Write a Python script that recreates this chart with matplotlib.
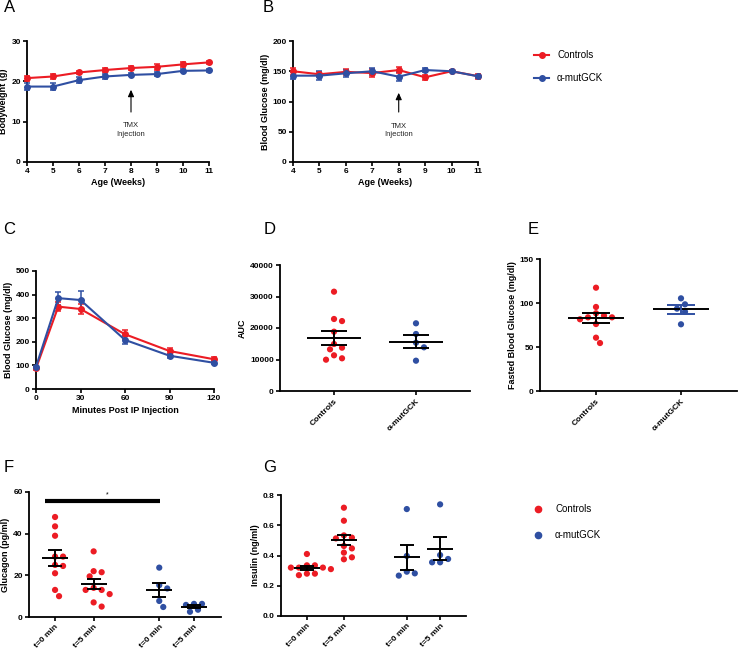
import numpy as np
import matplotlib
matplotlib.use('Agg')
import matplotlib.pyplot as plt
from matplotlib.lines import Line2D

RED = '#ec1c24'
BLUE = '#2f4fa2'

plt.rcParams['font.family'] = ['Liberation Sans', 'DejaVu Sans']
plt.rcParams['font.weight'] = 'bold'
plt.rcParams['axes.labelweight'] = 'bold'

# ---------------- data ----------------
weeks = [4, 5, 6, 7, 8, 9, 10, 11]
bw_ctrl = [20.8, 21.2, 22.2, 22.8, 23.3, 23.6, 24.2, 24.7]
bw_ctrl_err = [0.6, 0.6, 0.4, 0.5, 0.5, 0.7, 0.7, 0.4]
bw_mut = [18.7, 18.7, 20.3, 21.2, 21.6, 21.8, 22.6, 22.7]
bw_mut_err = [0.8, 0.9, 0.7, 0.6, 0.4, 0.4, 0.4, 0.4]

bg_ctrl = [150, 145, 149, 147, 152, 140, 150, 142]
bg_ctrl_err = [6, 4, 5, 6, 5, 4, 2, 4]
bg_mut = [142.7, 142.7, 146.6, 150, 141, 152, 150, 141.6]
bg_mut_err = [6, 7, 6, 6, 7, 4, 2, 3]

ipgtt_t = [0, 15, 30, 60, 90, 120]
ipgtt_ctrl = [87, 349, 339, 232, 161, 126]
ipgtt_ctrl_err = [5, 20, 20, 20, 14, 10]
ipgtt_mut = [94, 385, 377, 208, 141, 111]
ipgtt_mut_err = [5, 27, 40, 18, 8, 6]

group_labels = ['Controls', 'α-mutGCK']
auc_ctrl = [31530, 22860, 22200, 18830, 14920, 13750, 13230, 11330, 9940, 10380]
auc_mut = [21490, 18100, 15330, 13870, 9620]

fbg_ctrl = [117.4, 95.5, 88.3, 83.7, 81.5, 83.7, 85.6, 76.1, 60.6, 54.5]
fbg_mut = [105.3, 98.5, 93.6, 90.1, 75.8]

time_labels = ['t=0 min', 't=5 min', 't=0 min', 't=5 min']
gcg_ctrl_t0 = [48.0, 43.5, 39.0, 29.0, 29.0, 25.0, 24.5, 21.0, 13.0, 10.0]
gcg_ctrl_t5 = [31.5, 22.0, 21.5, 19.5, 14.0, 13.0, 13.0, 11.0, 7.0, 5.0]
gcg_mut_t0 = [23.7, 15.3, 13.7, 7.7, 4.8]
gcg_mut_t5 = [5.8, 6.3, 6.3, 3.5, 2.5]

ins_ctrl_t0 = [0.41, 0.335, 0.335, 0.32, 0.32, 0.31, 0.28, 0.28, 0.27, 0.32]
ins_ctrl_t5 = [0.716, 0.63, 0.533, 0.518, 0.513, 0.463, 0.447, 0.419, 0.375, 0.388]
ins_mut_t0 = [0.707, 0.397, 0.293, 0.282, 0.267]
ins_mut_t5 = [0.738, 0.403, 0.377, 0.355, 0.355]

# ---------------- figure ----------------
W, H = 738, 652
fig = plt.figure(figsize=(W / 100, H / 100), dpi=100)


def add_ax(x0, x1, y0, y1):
    return fig.add_axes([x0 / W, 1 - y1 / H, (x1 - x0) / W, (y1 - y0) / H])


def style(ax):
    for s in ['top', 'right']:
        ax.spines[s].set_visible(False)
    for s in ['left', 'bottom']:
        ax.spines[s].set_linewidth(1.3)
    ax.tick_params(direction='out', length=3, width=1.2, labelsize=6, pad=1.5)


def line_panel(ax, x, c, ce, m, me):
    kw = dict(marker='o', ms=4, lw=1.5, elinewidth=1.1, capsize=2, capthick=1.1,
              clip_on=False, zorder=3)
    ax.errorbar(x, c, yerr=ce, color=RED, **kw)
    ax.errorbar(x, m, yerr=me, color=BLUE, **kw)


def ppu(ax):
    bb = ax.get_position()
    xl = ax.get_xlim()
    yl = ax.get_ylim()
    return (bb.width * W / (xl[1] - xl[0]), bb.height * H / (yl[1] - yl[0]))


def swarm(ax, x, vals, color, step=4.0, dist=6.3):
    px, py = ppu(ax)
    vals = np.asarray(vals, float)
    order = np.argsort(-vals)
    placed = []
    offs = np.zeros(len(vals))
    cands = [0]
    for j in range(1, 12):
        cands += [j, -j]
    for i in order:
        yp = vals[i] * py
        for c in cands:
            xp = c * step
            if all((xp - a) ** 2 + (yp - b) ** 2 >= dist ** 2 for a, b in placed):
                break
        placed.append((xp, yp))
        offs[i] = xp / px
    ax.scatter(x + offs, vals, s=20, color=color, edgecolors='none', zorder=3, clip_on=False)


def mean_sem(ax, x, vals, hw_mean_px, hw_sem_px, cm='black', cs='black'):
    px, py = ppu(ax)
    v = np.asarray(vals, float)
    m = v.mean()
    s = v.std(ddof=1) / np.sqrt(len(v))
    hm = hw_mean_px / px
    hs = hw_sem_px / px
    kw = dict(lw=1.4, zorder=4, solid_capstyle='butt')
    ax.plot([x - hm, x + hm], [m, m], color=cm, **kw)
    ax.plot([x - hs, x + hs], [m + s, m + s], color=cs, **kw)
    ax.plot([x - hs, x + hs], [m - s, m - s], color=cs, **kw)
    ax.plot([x, x], [m - s, m + s], color=cs, **kw)


# ---- A ----
axA = add_ax(27, 209, 41, 162)
style(axA)
line_panel(axA, weeks, bw_ctrl, bw_ctrl_err, bw_mut, bw_mut_err)
axA.set_xlim(4, 11)
axA.set_ylim(0, 30)
axA.set_xticks(weeks)
axA.set_yticks([0, 10, 20, 30])
axA.set_xlabel('Age (Weeks)', fontsize=6.5, labelpad=2)
axA.set_ylabel('Bodyweight (g)', fontsize=6.5, labelpad=2)
axA.annotate('', xy=(8, 18.6), xytext=(8, 11.7),
             arrowprops=dict(arrowstyle='-|>,head_length=0.4,head_width=0.18', lw=0.8, color='black'))
axA.text(8, 8.0, 'TMX\nInjection', ha='center', va='center', fontsize=5.5,
         fontweight='normal', color='#222222', linespacing=1.35)

# ---- B ----
axB = add_ax(293, 478, 41, 162)
style(axB)
line_panel(axB, weeks, bg_ctrl, bg_ctrl_err, bg_mut, bg_mut_err)
axB.set_xlim(4, 11)
axB.set_ylim(0, 200)
axB.set_xticks(weeks)
axB.set_yticks([0, 50, 100, 150, 200])
axB.set_xlabel('Age (Weeks)', fontsize=6.5, labelpad=2)
axB.set_ylabel('Blood Glucose (mg/dl)', fontsize=6.5, labelpad=2)
axB.annotate('', xy=(8, 119), xytext=(8, 78),
             arrowprops=dict(arrowstyle='-|>,head_length=0.4,head_width=0.18', lw=0.8, color='black'))
axB.text(8, 52, 'TMX\nInjection', ha='center', va='center', fontsize=5.5,
         fontweight='normal', color='#222222', linespacing=1.35)

# ---- top legend ----
for yy, col, lab in [(55, RED, 'Controls'), (78, BLUE, 'α-mutGCK')]:
    fig.add_artist(Line2D([534 / W, 549 / W], [1 - yy / H, 1 - yy / H], color=col, lw=1.5,
                          transform=fig.transFigure))
    fig.add_artist(Line2D([541.5 / W], [1 - yy / H], color=col, marker='o', ms=4,
                          transform=fig.transFigure))
    fig.text(557 / W, 1 - yy / H, lab, fontsize=7, fontweight='normal', va='center', ha='left')

# ---- C ----
axC = add_ax(36, 214, 271, 389)
style(axC)
line_panel(axC, ipgtt_t, ipgtt_ctrl, ipgtt_ctrl_err, ipgtt_mut, ipgtt_mut_err)
axC.set_xlim(0, 120)
axC.set_ylim(0, 500)
axC.set_xticks([0, 30, 60, 90, 120])
axC.set_yticks([0, 100, 200, 300, 400, 500])
axC.set_xlabel('Minutes Post IP Injection', fontsize=6.5, labelpad=3)
axC.set_ylabel('Blood Glucose (mg/dl)', fontsize=6.5, labelpad=2)

# ---- D ----
axD = add_ax(280, 470, 265, 391)
style(axD)
axD.set_xlim(0.341, 2.659)
axD.set_ylim(0, 40000)
axD.set_yticks([0, 10000, 20000, 30000, 40000])
axD.set_xticks([1, 2])
axD.set_xticklabels(group_labels, rotation=45, ha='right', rotation_mode='anchor')
axD.set_ylabel('AUC', fontsize=6.5, labelpad=2)
swarm(axD, 1, auc_ctrl, RED)
swarm(axD, 2, auc_mut, BLUE)
mean_sem(axD, 1, auc_ctrl, 27, 13)
mean_sem(axD, 2, auc_mut, 27, 13)

# ---- E ----
axE = add_ax(540, 737, 259, 391)
style(axE)
axE.set_xlim(0.341, 2.659)
axE.set_ylim(0, 150)
axE.set_yticks([0, 50, 100, 150])
axE.set_xticks([1, 2])
axE.set_xticklabels(group_labels, rotation=45, ha='right', rotation_mode='anchor')
axE.set_ylabel('Fasted Blood Glucose (mg/dl)', fontsize=6.5, labelpad=2)
swarm(axE, 1, fbg_ctrl, RED)
swarm(axE, 2, fbg_mut, BLUE)
mean_sem(axE, 1, fbg_ctrl, 28, 14)
mean_sem(axE, 2, fbg_mut, 28, 14, cm='black', cs=BLUE)

# ---- F ----
pos = [1, 2, 3.7, 4.6]
axF = add_ax(29, 221, 492, 617)
style(axF)
axF.set_xlim(0.325, 5.3)
axF.set_ylim(0, 60)
axF.set_yticks([0, 20, 40, 60])
axF.set_xticks(pos)
axF.set_xticklabels(time_labels, rotation=45, ha='right', rotation_mode='anchor')
axF.set_ylabel('Glucagon (pg/ml)', fontsize=6.5, labelpad=2)
for p, vals, col in zip(pos, [gcg_ctrl_t0, gcg_ctrl_t5, gcg_mut_t0, gcg_mut_t5],
                        [RED, RED, BLUE, BLUE]):
    swarm(axF, p, vals, col)
    mean_sem(axF, p, vals, 13, 7)
axF.plot([0.74, 3.73], [55.5, 55.5], color='black', lw=3, solid_capstyle='butt', clip_on=False)
axF.text(2.35, 58.5, '*', ha='center', va='center', fontsize=5, fontweight='normal')

# ---- G ----
axG = add_ax(281, 466, 495, 616)
style(axG)
axG.set_xlim(0.3, 5.3)
axG.set_ylim(0, 0.8)
axG.set_yticks([0.0, 0.2, 0.4, 0.6, 0.8])
axG.set_yticklabels(['0.0', '0.2', '0.4', '0.6', '0.8'])
axG.set_xticks(pos)
axG.set_xticklabels(time_labels, rotation=45, ha='right', rotation_mode='anchor')
axG.set_ylabel('Insulin (ng/ml)', fontsize=6.5, labelpad=2)
for p, vals, col in zip(pos, [ins_ctrl_t0, ins_ctrl_t5, ins_mut_t0, ins_mut_t5],
                        [RED, RED, BLUE, BLUE]):
    swarm(axG, p, vals, col)
    mean_sem(axG, p, vals, 13, 7)

# ---- bottom legend ----
for yy, col, lab in [(509, RED, 'Controls'), (535, BLUE, 'α-mutGCK')]:
    fig.add_artist(Line2D([538 / W], [1 - yy / H], color=col, marker='o', ms=4.5, ls='',
                          transform=fig.transFigure))
    fig.text(555 / W, 1 - yy / H, lab, fontsize=7, fontweight='normal', va='center', ha='left')

# ---- panel letters ----
for lab, xx, yy in [('A', 9.5, 8), ('B', 268.5, 8), ('C', 9, 230), ('D', 270, 230),
                    ('E', 533, 230), ('F', 9, 467), ('G', 270, 468)]:
    fig.text(xx / W, 1 - yy / H, lab, fontsize=12, fontweight='normal', ha='center', va='center')

fig.savefig('out.png', dpi=100)
